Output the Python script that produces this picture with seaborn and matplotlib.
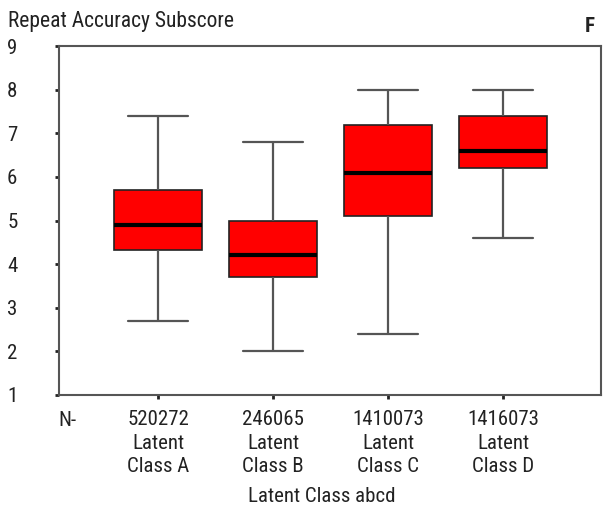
import matplotlib
matplotlib.use("Agg")
import matplotlib.pyplot as plt
import seaborn as sns
import pandas as pd

classes = ["520272\nLatent\nClass A", "246065\nLatent\nClass B",
           "1410073\nLatent\nClass C", "1416073\nLatent\nClass D"]
whisker_low = [2.7, 2.0, 2.4, 4.6]
q1 = [4.33, 3.7, 5.1, 6.2]
median = [4.9, 4.2, 6.1, 6.6]
q3 = [5.7, 5.0, 7.2, 7.4]
whisker_high = [7.4, 6.8, 8.0, 8.0]
yticks = [1, 2, 3, 4, 5, 6, 7, 8, 9]

sns.set_style("white")
plt.rcParams['font.family'] = ['Roboto Condensed', 'Liberation Sans Narrow',
                               'Archivo Narrow', 'DejaVu Sans']
plt.rcParams['text.color'] = '#222222'
plt.rcParams['xtick.color'] = '#222222'
plt.rcParams['ytick.color'] = '#222222'

rows = []
for c, a, b, m, d, e in zip(classes, whisker_low, q1, median, q3, whisker_high):
    for v in (a, b, m, d, e):
        rows.append({"cls": c, "score": v})
df = pd.DataFrame(rows)

FS = 15
fig = plt.figure(figsize=(6.04, 5.12), dpi=100)
ax = fig.add_axes([59/604, 1-395/512, (601-59)/604, (395-46)/512])

sns.boxplot(data=df, x="cls", y="score", order=classes, color="#ff0000",
            saturation=1, width=0.77, whis=(0, 100), ax=ax,
            capwidths=0.52,
            boxprops=dict(edgecolor="#222222", linewidth=1.2),
            whiskerprops=dict(color="#555555", linewidth=1.6),
            capprops=dict(color="#555555", linewidth=1.6),
            medianprops=dict(color="black", linewidth=3))

ax.set_xlim(-0.861, 3.852)
ax.set_ylim(1, 9)
ax.set_yticks(yticks)
ax.set_yticklabels([str(t) for t in yticks])
for s in ax.spines.values():
    s.set_color("#555555")
    s.set_linewidth(1.5)
    s.set_visible(True)
ax.tick_params(axis="y", direction="out", length=3, width=2, color="#222222",
               pad=27, labelsize=FS, left=True)
ax.tick_params(axis="x", direction="out", length=3, width=2, color="#222222",
               pad=8, labelsize=FS, bottom=True)
for lbl in ax.get_xticklabels():
    lbl.set_linespacing(1.3)
ax.set_xlabel("")
ax.set_ylabel("")

fig.text(8/604, 1-22/512, "Repeat Accuracy Subscore", fontsize=FS + 0.5,
         ha="left", va="center")
fig.text(590/604, 1-27/512, "F", fontsize=FS, fontweight="bold",
         ha="center", va="center")
fig.text(67/604, 1-420/512, "N-", fontsize=FS, ha="center", va="center")
fig.text(322/604, 1-496/512, "Latent Class abcd", fontsize=FS,
         ha="center", va="center")

fig.savefig("out.png", dpi=100)
